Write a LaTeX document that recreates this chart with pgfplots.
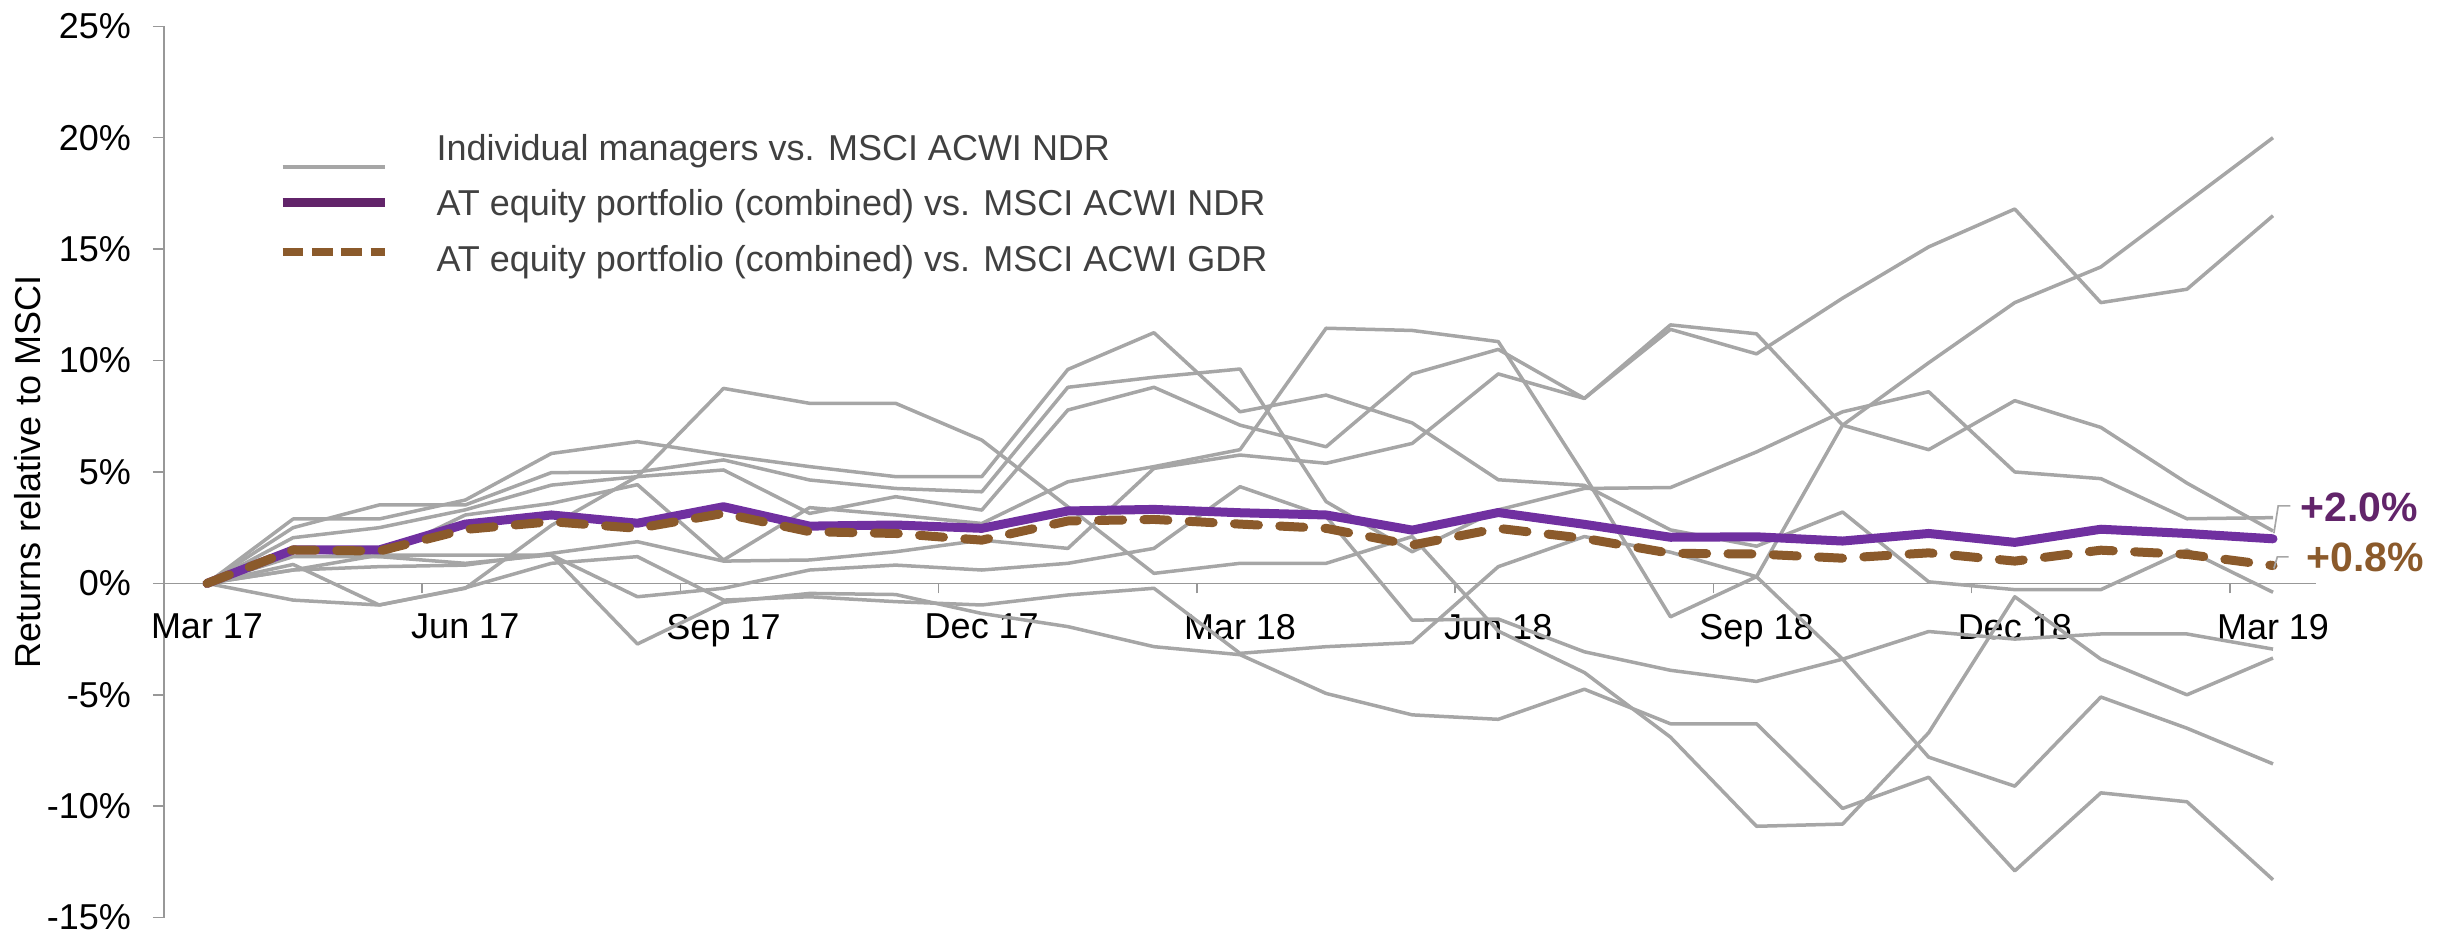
\documentclass[border=0pt]{standalone}
\usepackage{fontspec}
\setmainfont{Liberation Sans}
\usepackage{pgfplots}
\usepackage{pgfplotstable}
\pgfplotsset{compat=1.18}

\definecolor{mgray}{HTML}{A6A6A6}
\definecolor{axgray}{HTML}{989898}
\definecolor{ndr}{HTML}{7030A0}
\definecolor{ndrdark}{HTML}{62246A}
\definecolor{gdr}{HTML}{8B5A2B}
\definecolor{legtext}{HTML}{404040}

% Monthly relative returns (%), month 0 = Mar 17 ... month 24 = Mar 19
% E..H: individual managers vs. MSCI ACWI NDR; N: combined vs. NDR; G: combined vs. GDR
\pgfplotstableread{
m  E      C     D      B      A      G1     F      G2     H       N     G
0  0      0     0      0      0      0      0      0      0       0     0
1  2.89   2.50  2.05   1.50   0.60   0.85   0.60   -0.75  1.20    1.50  1.50
2  2.89   3.52  2.50   1.20   0.75   -0.97  1.27   -0.97  1.20    1.50  1.45
3  3.74   3.52  3.30   3.07   0.82   -0.22  1.27   -0.20  0.90    2.66  2.42
4  5.83   4.97  4.41   3.59   1.35   2.60   1.27   0.90   1.28    3.07  2.77
5  6.36   5.00  4.79   4.43   1.87   4.80   -0.60  1.20   -2.72   2.70  2.47
6  5.76   5.54  5.09   1.05   1.00   8.75   -0.22  -0.75  -0.85   3.44  3.14
7  5.24   4.64  3.14   3.40   1.05   8.08   0.60   -0.60  -0.45   2.57  2.32
8  4.79   4.26  3.89   3.07   1.42   8.08   0.82   -0.82  -0.50   2.62  2.24
9  4.79   4.11  3.29   2.69   1.94   6.43   0.60   -0.97  -1.35   2.47  1.94
10 9.60   8.80  7.78   4.56   1.57   3.44   0.90   -0.52  -1.94   3.25  2.80
11 11.25  9.25  8.80   5.24   5.16   0.45   1.57   -0.22  -2.84   3.32  2.87
12 7.70   9.62  7.10   6.00   5.76   0.90   4.34   -3.14  -3.20   3.17  2.66
13 8.45   3.67  6.13   11.45  5.39   0.90   3.00   -2.84  -4.94   3.07  2.47
14 7.20   1.42  9.40   11.35  6.28   2.10   -1.65  -2.66  -5.90   2.39  1.72
15 4.65   3.30  10.50  10.85  9.40   -2.14  -1.60  0.75   -6.10   3.18  2.47
16 4.40   4.26  8.30   4.85   8.30   -4.00  -3.07  2.10   -4.75   2.65  2.02
17 2.40   4.30  11.60  -1.50  11.40  -6.90  -3.90  1.40   -6.30   2.07  1.35
18 1.67   5.90  11.20  0.30   10.30  -10.90 -4.40  0.30   -6.30   2.09  1.32
19 3.20   7.70  7.10   7.10   12.80  -10.80 -3.40  -3.40  -10.10  1.90  1.13
20 0.07   8.60  6.00   9.90   15.10  -6.70  -2.16  -7.80  -8.70   2.24  1.37
21 -0.28  5.00  8.20   12.60  16.80  -0.60  -2.50  -9.10  -12.90  1.84  1.00
22 -0.28  4.70  7.00   14.20  12.60  -3.40  -2.27  -5.10  -9.40   2.43  1.49
23 1.50   2.90  4.50   17.10  13.20  -5.00  -2.27  -6.50  -9.80   2.24  1.30
24 -0.40  2.95  2.35   20.00  16.50  -3.35  -2.95  -8.10  -13.30  2.00  0.80
}\returns

\begin{document}
\begin{tikzpicture}[font=\fontsize{10.8}{13}\selectfont]
\begin{axis}[
  scale only axis,
  width=645.6pt, height=267.4pt,
  xmin=-0.5, xmax=24.5, ymin=-15, ymax=25,
  axis x line*=middle, axis y line*=left,
  axis line style={draw=axgray, line width=0.45pt},
  clip=false,
  xtick={0,3,...,24},
  xticklabels={Mar 17,Jun 17,Sep 17,Dec 17,Mar 18,Jun 18,Sep 18,Dec 18,Mar 19},
  minor xtick={2.5,5.5,...,23.5},
  ytick={-15,-10,...,25},
  yticklabel={\pgfmathprintnumber{\tick}\%},
  /pgf/number format/assume math mode=true,
  tick align=outside,
  major x tick style={draw=none},
  minor x tick style={draw=axgray, line width=0.45pt},
  y tick style={draw=axgray, line width=0.45pt},
  major tick length=3.3pt, minor tick length=3pt,
  hide obscured x ticks=false, hide obscured y ticks=false,
  tick label style={font=\fontsize{10.8}{13}\selectfont, text=black, inner sep=0pt},
  xticklabel style={yshift=-5.7pt},
  yticklabel style={xshift=-6.4pt},
  ylabel={Returns relative to MSCI},
  every axis y label/.style={at={(rel axis cs:-0.0632,0.5)}, rotate=90, anchor=center,
    font=\fontsize{10.8}{13}\selectfont},
  legend cell align=left,
  legend image code/.code={\draw[#1] (0pt,0pt) -- (30.6pt,0pt);},
  legend style={draw=none, fill=none, inner sep=0pt, outer sep=0pt,
    at={(0.053,0.8791)}, anchor=north west,
    font=\fontsize{10.8}{13}\selectfont, text=legtext,
    row sep=8.85pt,
    nodes={inner sep=0pt, text height=7.8pt, text depth=0pt},
    /tikz/every odd column/.style={column sep=14.25pt}},
]
% legend keys; the swatch offsets do not change the row spacing
\addlegendimage{legend image code/.code={%
  \path[draw=none, fill=none] (0pt,0pt) rectangle (30.6pt,0pt);
  \draw[mgray, line width=1.4pt, overlay] (0pt,-6pt) -- (30.6pt,-6pt);}}
\addlegendentry{Individual managers vs. MSCI ACWI NDR}
\addlegendimage{ndrdark, line width=2.7pt}
\addlegendentry{AT equity portfolio (combined) vs. MSCI ACWI NDR}
\addlegendimage{legend image code/.code={%
  \path[draw=none, fill=none] (0pt,0pt) rectangle (30.6pt,0pt);
  \draw[gdr, line width=2.3pt, dash pattern=on 6.2pt off 2.6pt, overlay] (0pt,1.8pt) -- (30.6pt,1.8pt);}}
\addlegendentry{AT equity portfolio (combined) vs. MSCI ACWI GDR}

\foreach \s in {E,C,D,B,A,G1,F,G2,H}{
  \addplot[mgray, line width=1.05pt, line join=round, forget plot] table[x=m, y=\s] {\returns};
}
\addplot[ndr, line width=2.7pt, line join=round, line cap=round, forget plot]
  table[x=m, y=N] {\returns};
\addplot[gdr, line width=2.7pt, line join=round, line cap=round,
  dash pattern=on 7.2pt off 6.4pt, forget plot]
  table[x=m, y=G] {\returns};

% end-of-period callouts
\draw[mgray, line width=0.5pt] (axis cs:24.2,3.48) -- (axis cs:24.06,3.48) -- (axis cs:24.01,2.25);
\draw[mgray, line width=0.5pt] (axis cs:24.18,1.19) -- (axis cs:24.05,1.19) -- (axis cs:24.01,0.67);
\node[anchor=west, inner sep=0pt, text=ndrdark, font=\bfseries\fontsize{12.3}{14}\selectfont]
  at (axis cs:24.31,3.42) {+2.0\%};
\node[anchor=west, inner sep=0pt, text=gdr, font=\bfseries\fontsize{12.3}{14}\selectfont]
  at (axis cs:24.38,1.16) {+0.8\%};

\coordinate (bbsw) at (rel axis cs:-0.0762,-0.0196);
\coordinate (bbne) at (rel axis cs:1.0627,1.0295);
\end{axis}
\pgfresetboundingbox
\path[use as bounding box] (bbsw) rectangle (bbne);
\end{tikzpicture}
\end{document}
